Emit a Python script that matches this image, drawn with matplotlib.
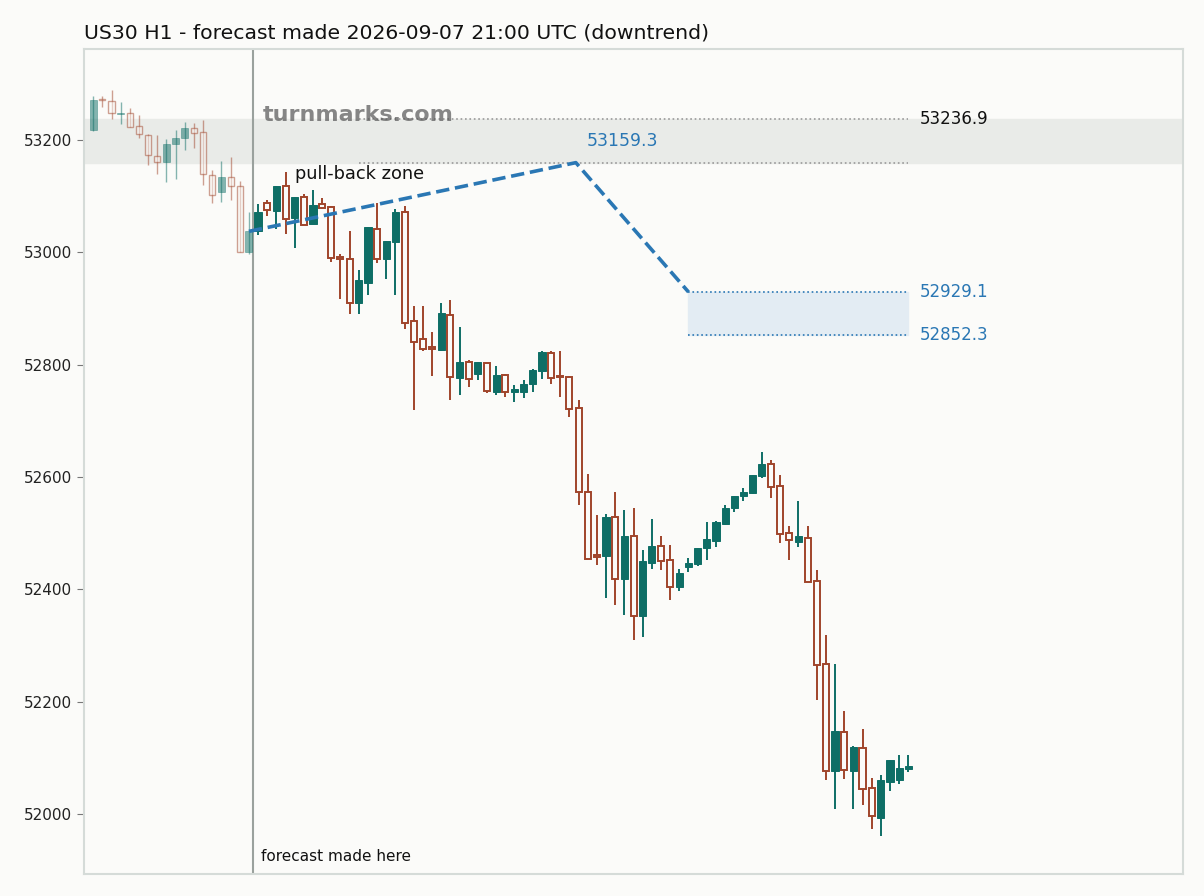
# Gráfico de velas US30 H1 com a previsão desenhada por cima

import matplotlib
matplotlib.use('Agg')
import matplotlib.pyplot as plt

# Velas (abertura, máxima, mínima, fechamento)
aberturas = [53217, 53272, 53269, 53246, 53248, 53224, 53208, 53171, 53160, 53192,
             53204, 53221, 53214, 53137, 53107, 53134, 53117, 53001, 53038, 53087,
             53074, 53117, 53061, 53098, 53050, 53086, 53081, 52992, 52987, 52910,
             52945, 53042, 52988, 53018, 53072, 52877, 52845, 52831, 52826, 52889,
             52776, 52804, 52784, 52802, 52752, 52782, 52752, 52752, 52765, 52788,
             52821, 52780, 52778, 52723, 52573, 52461, 52460, 52528, 52418, 52495,
             52352, 52447, 52477, 52453, 52404, 52440, 52445, 52473, 52486, 52517,
             52545, 52566, 52571, 52601, 52623, 52584, 52500, 52484, 52492, 52415,
             52268, 52076, 52147, 52077, 52117, 52047, 51993, 52057, 52061, 52080]
maximas = [53277, 53277, 53289, 53267, 53257, 53244, 53211, 53208, 53201, 53218,
           53231, 53229, 53235, 53146, 53162, 53169, 53126, 53071, 53085, 53093,
           53117, 53143, 53099, 53103, 53110, 53096, 53083, 52996, 53037, 52968,
           53044, 53087, 53020, 53077, 53083, 52904, 52904, 52858, 52910, 52915,
           52866, 52808, 52804, 52802, 52798, 52784, 52764, 52772, 52792, 52825,
           52824, 52824, 52780, 52737, 52606, 52532, 52534, 52574, 52541, 52545,
           52470, 52525, 52495, 52479, 52437, 52455, 52473, 52520, 52522, 52551,
           52567, 52581, 52604, 52645, 52630, 52604, 52512, 52557, 52512, 52434,
           52319, 52268, 52184, 52121, 52152, 52065, 52069, 52096, 52105, 52105]
minimas = [53215, 53258, 53237, 53228, 53222, 53204, 53155, 53139, 53124, 53130,
           53182, 53186, 53120, 53088, 53090, 53092, 53001, 52996, 53031, 53065,
           53042, 53032, 53007, 53049, 53050, 53076, 52983, 52917, 52890, 52890,
           52923, 52981, 52952, 52923, 52864, 52719, 52825, 52780, 52824, 52737,
           52746, 52760, 52772, 52749, 52746, 52743, 52734, 52740, 52752, 52774,
           52766, 52743, 52706, 52551, 52454, 52443, 52384, 52372, 52355, 52310,
           52316, 52436, 52434, 52381, 52397, 52431, 52441, 52452, 52476, 52514,
           52538, 52557, 52569, 52598, 52562, 52483, 52452, 52476, 52414, 52204,
           52061, 52009, 52062, 52009, 52016, 51973, 51962, 52041, 52053, 52075]
fechamentos = [53270, 53270, 53248, 53248, 53223, 53210, 53173, 53160, 53192, 53203,
               53221, 53212, 53139, 53102, 53134, 53117, 53001, 53037, 53071, 53075,
               53117, 53059, 53099, 53049, 53084, 53078, 52990, 52987, 52909, 52950,
               53044, 52987, 53019, 53072, 52874, 52841, 52827, 52828, 52892, 52777,
               52804, 52774, 52804, 52753, 52782, 52752, 52756, 52766, 52791, 52822,
               52776, 52777, 52721, 52574, 52454, 52458, 52528, 52418, 52495, 52352,
               52450, 52477, 52450, 52404, 52430, 52447, 52473, 52489, 52519, 52545,
               52567, 52574, 52604, 52623, 52583, 52498, 52488, 52495, 52414, 52265,
               52076, 52148, 52078, 52119, 52044, 51996, 52061, 52096, 52083, 52085]

# Previsão: ponto de partida, topo do pull-back e alvo
previsao_x = [17, 52.7, 65]
previsao_y = [53037, 53159.3, 52929.1]
zona_pullback = (53159.3, 53236.9)
zona_alvo = (52852.3, 52929.1)
ultimo_indice_historico = 17  # velas até aqui ficam esmaecidas
posicao_previsao = 17.4
yticks = [52000, 52200, 52400, 52600, 52800, 53000, 53200]

COR_ALTA = '#0e6e66'
COR_BAIXA = '#a0452b'
COR_FUNDO = '#fbfbf9'
AZUL = '#2a77b4'


def desenhar_velas(ax):
    """Desenha pavios e corpos das velas"""
    for i in range(len(aberturas)):
        o, h, l, c = aberturas[i], maximas[i], minimas[i], fechamentos[i]
        historico = i <= ultimo_indice_historico
        alpha = 0.5 if historico else 1.0
        lw = 1.0 if historico else 1.4
        cor = COR_ALTA if c >= o else COR_BAIXA
        ax.vlines(i, l, h, color=cor, linewidth=lw, alpha=alpha, zorder=2)
        altura = max(abs(c - o), 1.5)
        base = min(o, c)
        if c >= o:
            ax.bar(i, altura, bottom=base, width=0.78, color=cor, edgecolor=cor,
                   linewidth=lw * 0.5, alpha=alpha, zorder=3)
        else:
            ax.bar(i, altura, bottom=base, width=0.66, facecolor=COR_FUNDO, edgecolor=cor,
                   linewidth=lw, alpha=alpha, zorder=3)


fig = plt.figure(figsize=(12.04, 8.96), dpi=100, facecolor=COR_FUNDO)
ax = fig.add_axes([0.0698, 0.0242, 0.9128, 0.9208])
ax.set_facecolor(COR_FUNDO)

n = len(aberturas)
fim = n - 1

# Faixa cinza do pull-back (largura toda) e faixa azul do alvo
ax.axhspan(zona_pullback[0], zona_pullback[1], color='#e9ebe8', zorder=0)
ax.hlines(zona_pullback, 29, fim, colors='#999999', linestyles=':', linewidth=1.2, zorder=1)
ax.fill_between([previsao_x[2], fim], zona_alvo[0], zona_alvo[1], color='#e3ecf3', zorder=0)
ax.hlines(zona_alvo, previsao_x[2], fim, colors=AZUL, linestyles=':', linewidth=1.2, zorder=1)

desenhar_velas(ax)

# Linha tracejada da previsão
ax.plot(previsao_x, previsao_y, color=AZUL, linestyle='--', linewidth=2.6, zorder=4)

# Linha vertical do momento da previsão
ax.axvline(posicao_previsao, color='#9aa19d', linewidth=1.5, zorder=1)

# Textos
ax.text(fim + 1.2, zona_pullback[1], f'{zona_pullback[1]:.1f}', fontsize=12,
        color='#111111', va='center', ha='left')
ax.text(previsao_x[1] + 1.2, sum(zona_pullback) / 2, f'{previsao_y[1]:.1f}', fontsize=12.4,
        color=AZUL, va='center', ha='left')
ax.text(fim + 1.2, zona_alvo[1], f'{zona_alvo[1]:.1f}', fontsize=12,
        color=AZUL, va='center', ha='left')
ax.text(fim + 1.2, zona_alvo[0], f'{zona_alvo[0]:.1f}', fontsize=12,
        color=AZUL, va='center', ha='left')
ax.text(22, zona_pullback[0] - 5, 'pull-back zone', fontsize=12.8, color='#111111',
        va='top', ha='left')
ax.text(0.163, 0.92, 'turnmarks.com', transform=ax.transAxes, fontsize=16,
        fontweight='bold', color='#555555', alpha=0.7, va='center', ha='left', zorder=5)
ax.text(posicao_previsao + 0.9, 51924, 'forecast made here', fontsize=11,
        color='#111111', va='center', ha='left')

ax.set_title('US30 H1 - forecast made 2026-09-07 21:00 UTC (downtrend)', loc='left',
             fontsize=14.7, color='#111111', pad=8)

ax.set_xlim(-1, 119)
ax.set_ylim(51893, 53361)
ax.set_xticks([])
ax.set_yticks(yticks)
ax.set_yticklabels([str(v) for v in yticks], fontsize=11, color='#222222')
ax.tick_params(axis='y', color='#777777', length=5)
for lado in ax.spines.values():
    lado.set_color('#d5dbd8')
    lado.set_linewidth(1.5)

plt.savefig('out.png', dpi=100, facecolor=COR_FUNDO)
plt.close()
print('Gráfico salvo: out.png')
